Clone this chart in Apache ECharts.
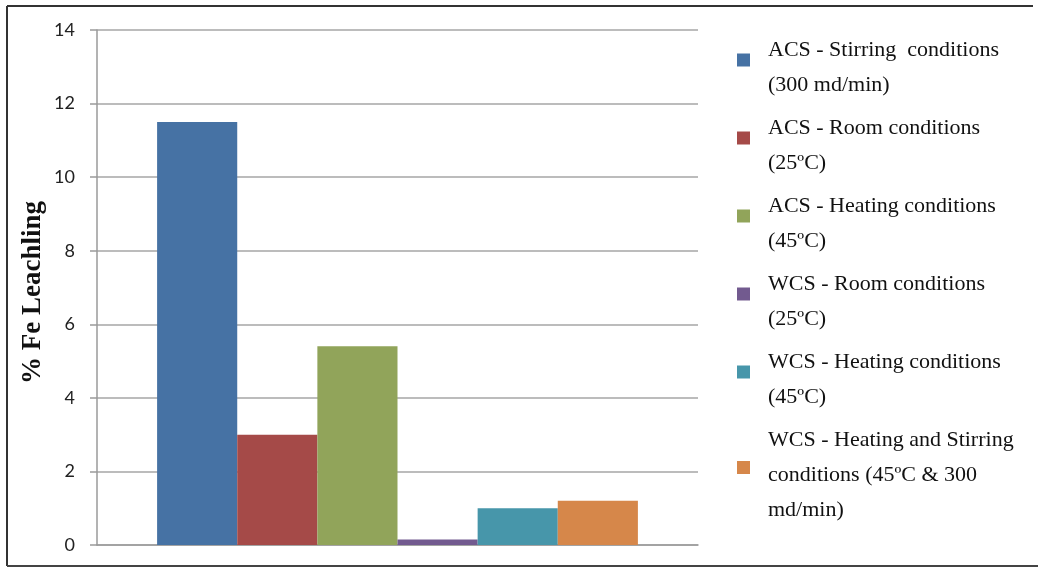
<!DOCTYPE html>
<html>
<head>
<meta charset="utf-8">
<script src="https://cdn.jsdelivr.net/npm/echarts@6/dist/echarts.min.js"></script>
<style>
  html, body { margin: 0; padding: 0; background: #fff; }
  #chart { width: 1038px; height: 567px; }
</style>
</head>
<body>
<div id="chart"></div>
<script>
// Fe leaching per treatment condition
const seriesNames = [
  'ACS - Stirring  conditions\n(300 md/min)',
  'ACS - Room conditions\n(25ºC)',
  'ACS - Heating conditions\n(45ºC)',
  'WCS - Room conditions\n(25ºC)',
  'WCS - Heating conditions\n(45ºC)',
  'WCS - Heating and Stirring\nconditions (45ºC & 300\nmd/min)'
];
const leachingValues = [11.5, 3.0, 5.4, 0.15, 1.0, 1.2];
const seriesColors = ['#4672A4', '#A54A48', '#91A45A', '#725A8F', '#4796AA', '#D6874A'];
const yTicks = [0, 2, 4, 6, 8, 10, 12, 14];

const chart = echarts.init(document.getElementById('chart'));

const series = seriesNames.map((name, i) => ({
  name: name,
  type: 'bar',
  data: [leachingValues[i]],
  barGap: '0%',
  barCategoryGap: '20%',
  itemStyle: { color: seriesColors[i] },
  emphasis: { disabled: true }
}));

// square swatch sitting in the upper part of a taller icon box,
// so it lines up a little above the middle of the two-line label
const legendIcon = 'path://M0,0 L13,0 L13,13 L0,13 Z M0,29 L0,29';

chart.setOption({
  animation: false,
  grid: { left: 97, right: 340, top: 30, bottom: 22 },
  legend: {
    orient: 'vertical',
    left: 732,
    top: 21,
    icon: legendIcon,
    itemWidth: 13,
    itemHeight: 29,
    itemGap: -6,
    selectedMode: false,
    textStyle: {
      fontFamily: 'Liberation Serif',
      fontSize: 22,
      color: '#111',
      lineHeight: 35,
      padding: [0, 0, 14, 13]
    },
    data: seriesNames
  },
  xAxis: {
    type: 'category',
    data: [''],
    axisLine: { lineStyle: { color: '#9a9a9a', width: 1.5 } },
    axisTick: { show: false },
    axisLabel: { show: false }
  },
  yAxis: {
    type: 'value',
    min: yTicks[0],
    max: yTicks[yTicks.length - 1],
    interval: 2,
    name: '% Fe Leachling',
    nameLocation: 'middle',
    nameGap: 50,
    nameMoveOverlap: false,
    nameTextStyle: {
      fontFamily: 'Liberation Serif',
      fontWeight: 'bold',
      fontSize: 27,
      color: '#111',
      padding: [0, 10, 0, 0]
    },
    axisLine: { show: true, lineStyle: { color: '#9a9a9a', width: 1.5 } },
    axisTick: { show: true, length: 7, lineStyle: { color: '#9a9a9a', width: 1.5 } },
    axisLabel: {
      margin: 22,
      fontFamily: 'Lato',
      fontSize: 18,
      color: '#222'
    },
    splitLine: { lineStyle: { color: '#a6a6a6', width: 1.5 } }
  },
  graphic: [
    { type: 'line', shape: { x1: 7, y1: 6, x2: 1033, y2: 6 }, style: { stroke: '#333', lineWidth: 2 } },
    { type: 'line', shape: { x1: 7, y1: 6, x2: 7, y2: 566 }, style: { stroke: '#333', lineWidth: 2 } },
    { type: 'line', shape: { x1: 7, y1: 566, x2: 1038, y2: 566 }, style: { stroke: '#444', lineWidth: 2 } }
  ],
  series: series
});
</script>
</body>
</html>
